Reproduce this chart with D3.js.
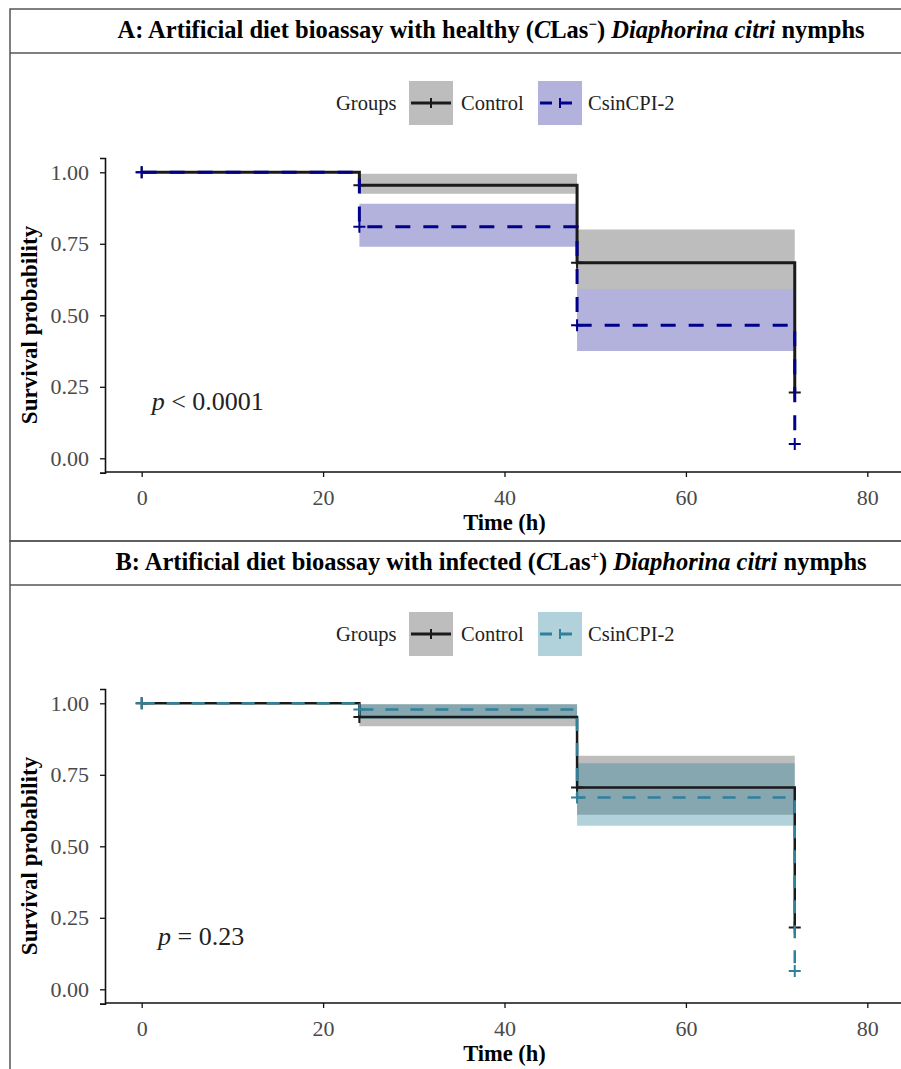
<!DOCTYPE html>
<html>
<head>
<meta charset="utf-8">
<script src="https://cdn.jsdelivr.net/npm/d3@7"></script>
<style>
  body { margin: 0; background: #fff; }
  svg { font-family: "Liberation Serif", "Times New Roman", serif; }
</style>
</head>
<body>
<div id="chart"></div>
<script>
// Kaplan-Meier curves, artificial diet bioassay
var times = [0, 24, 48, 72];
var xTicks = [0, 20, 40, 60, 80];
var yTicks = [0, 0.25, 0.5, 0.75, 1];
var groups = ["Control", "CsinCPI-2"];

// panel A (healthy nymphs)
var aControlSurv = [1.00, 0.955, 0.684, 0.23];
var aControlLower = [1.00, 0.925, 0.592];
var aControlUpper = [1.00, 0.995, 0.80];
var aCsinSurv = [1.00, 0.81, 0.465, 0.05];
var aCsinLower = [1.00, 0.74, 0.375];
var aCsinUpper = [1.00, 0.89, 0.592];
var aPValue = "< 0.0001";
var aPCoord = [1.1, 0.2];

// panel B (infected nymphs)
var bControlSurv = [1.00, 0.952, 0.706, 0.216];
var bControlLower = [1.00, 0.92, 0.61];
var bControlUpper = [1.00, 0.997, 0.817];
var bCsinSurv = [1.00, 0.978, 0.671, 0.064];
var bCsinLower = [1.00, 0.945, 0.572];
var bCsinUpper = [1.00, 0.997, 0.79];
var bPValue = "= 0.23";
var bPCoord = [1.8, 0.185];

var width = 901, height = 1069;

var panels = [
  {top: 9, boxH: 532, letter: "A", state: "healthy", sign: "\u2212",
   control: [aControlSurv, aControlLower, aControlUpper],
   csin: [aCsinSurv, aCsinLower, aCsinUpper],
   csinLine: "#00008b", csinFill: "#00008b", csinAlpha: 0.3, lw: 3, dash: "15,13",
   p: aPValue, pc: aPCoord},
  {top: 541, boxH: 600, letter: "B", state: "infected", sign: "+",
   control: [bControlSurv, bControlLower, bControlUpper],
   csin: [bCsinSurv, bCsinLower, bCsinUpper],
   csinLine: "#2f8099", csinFill: "#1f7a99", csinAlpha: 0.35, lw: 2.5, dash: "13,12",
   p: bPValue, pc: bPCoord}
];

var svg = d3.select("#chart").append("svg")
  .attr("width", width)
  .attr("height", height);

var x = d3.scaleLinear().domain([-4, 84]).range([105.4, 903.6]);

panels.forEach(function(P) {
  var T = P.top;
  var plotTop = P.letter == "A" ? 158 : 689;
  var y = d3.scaleLinear().domain([-0.05, 1.05]).range([plotTop + 314.6, plotTop]);
  var axisY = plotTop + 314;
  var g = svg.append("g");

  // frame + strip
  g.append("rect")
    .attr("x", 10).attr("y", T)
    .attr("width", 1000).attr("height", P.boxH)
    .attr("fill", "none").attr("stroke", "#555").attr("stroke-width", 1.5);
  g.append("line")
    .attr("x1", 10).attr("x2", 1000)
    .attr("y1", T + 44).attr("y2", T + 44)
    .attr("stroke", "#555").attr("stroke-width", 1.5);

  var title = g.append("text")
    .attr("x", 491).attr("y", T + 29)
    .attr("text-anchor", "middle")
    .style("font-size", "24.5px").style("font-weight", "bold");
  title.append("tspan").text(P.letter + ": Artificial diet bioassay with " + P.state + " (");
  title.append("tspan").style("font-style", "italic").text("C");
  title.append("tspan").text("Las");
  title.append("tspan").attr("dy", -9).style("font-size", "15px").text(P.sign);
  title.append("tspan").attr("dy", 9).text(") ");
  title.append("tspan").style("font-style", "italic").text("Diaphorina citri");
  title.append("tspan").text(" nymphs");

  // legend
  var ly = plotTop - 55;
  var leg = g.append("g").style("font-size", "20.5px").attr("fill", "#222");
  leg.append("text").attr("x", 336).attr("y", ly + 7).text("Groups");
  var keys = [
    {x: 409, fill: "#000", alpha: 0.26, line: "#1a1a1a", dash: null, label: groups[0], lx: 461},
    {x: 538, fill: P.csinFill, alpha: P.csinAlpha, line: P.csinLine, dash: "12,8", label: groups[1], lx: 588}
  ];
  keys.forEach(function(k) {
    leg.append("rect")
      .attr("x", k.x).attr("y", ly - 22)
      .attr("width", 44).attr("height", 44)
      .attr("fill", k.fill).attr("fill-opacity", k.alpha);
    leg.append("line")
      .attr("x1", k.x + 2).attr("x2", k.x + 42)
      .attr("y1", ly).attr("y2", ly)
      .attr("stroke", k.line).attr("stroke-width", 3)
      .attr("stroke-dasharray", k.dash);
    leg.append("path")
      .attr("d", "M" + (k.x + 22) + "," + (ly - 5) + "V" + (ly + 5))
      .attr("stroke", k.line).attr("stroke-width", 2);
    leg.append("text").attr("x", k.lx).attr("y", ly + 7).text(k.label);
  });

  // confidence bands
  var area = d3.area()
    .curve(d3.curveStepAfter)
    .x(function(d) { return x(d.t); })
    .y0(function(d) { return y(d.lo); })
    .y1(function(d) { return y(d.hi); });
  function bandData(s) {
    var lo = s[1], hi = s[2];
    var pts = times.slice(0, lo.length).map(function(t, i) { return {t: t, lo: lo[i], hi: hi[i]}; });
    pts.push({t: times[lo.length], lo: lo[lo.length - 1], hi: hi[hi.length - 1]});
    return pts;
  }
  g.append("path").attr("d", area(bandData(P.control)))
    .attr("fill", "#000").attr("fill-opacity", 0.26);
  g.append("path").attr("d", area(bandData(P.csin)))
    .attr("fill", P.csinFill).attr("fill-opacity", P.csinAlpha);

  // survival curves
  var line = d3.line()
    .curve(d3.curveStepAfter)
    .x(function(d) { return x(d[0]); })
    .y(function(d) { return y(d[1]); });
  var series = [
    {s: P.control[0], color: "#1a1a1a", dash: null},
    {s: P.csin[0], color: P.csinLine, dash: P.dash}
  ];
  series.forEach(function(se) {
    var pts = times.map(function(t, i) { return [t, se.s[i]]; });
    g.append("path").attr("d", line(pts))
      .attr("fill", "none").attr("stroke", se.color)
      .attr("stroke-width", P.lw).attr("stroke-dasharray", se.dash);
    g.selectAll(null).data(pts).enter().append("path")
      .attr("d", function(d) {
        var px = x(d[0]), py = y(d[1]);
        return "M" + (px - 6) + "," + py + "H" + (px + 6) + "M" + px + "," + (py - 6) + "V" + (py + 6);
      })
      .attr("stroke", se.color).attr("stroke-width", 2).attr("fill", "none");
  });

  // axes
  var xAxis = g.append("g")
    .attr("transform", "translate(0," + axisY + ")")
    .call(d3.axisBottom(x).tickValues(xTicks).tickSize(5).tickPadding(12));
  var yAxis = g.append("g")
    .attr("transform", "translate(105,0)")
    .call(d3.axisLeft(y).tickValues(yTicks).tickSize(5).tickPadding(11).tickFormat(d3.format(".2f")));
  [xAxis, yAxis].forEach(function(ax) {
    ax.select(".domain").attr("stroke", "#111").attr("stroke-width", 1.6);
    ax.selectAll(".tick line").attr("stroke", "#111").attr("stroke-width", 1.3);
    ax.selectAll(".tick text")
      .attr("fill", "#4a4a4a")
      .style("font-size", "22px")
      .style("font-family", "'Liberation Serif', serif");
  });
  xAxis.select(".domain").attr("d", "M" + x.range()[0] + ",0H" + width);

  g.append("text")
    .attr("x", x(40)).attr("y", axisY + 58)
    .attr("text-anchor", "middle")
    .style("font-size", "22.5px").style("font-weight", "bold")
    .text("Time (h)");
  g.append("text")
    .attr("transform", "translate(37," + (plotTop + 167) + ") rotate(-90)")
    .attr("text-anchor", "middle")
    .style("font-size", "23px").style("font-weight", "bold")
    .text("Survival probability");

  var pv = g.append("text")
    .attr("x", x(P.pc[0])).attr("y", y(P.pc[1]) + 9)
    .style("font-size", "26px").attr("fill", "#222");
  pv.append("tspan").style("font-style", "italic").text("p");
  pv.append("tspan").text(" " + P.p);
});
</script>
</body>
</html>
